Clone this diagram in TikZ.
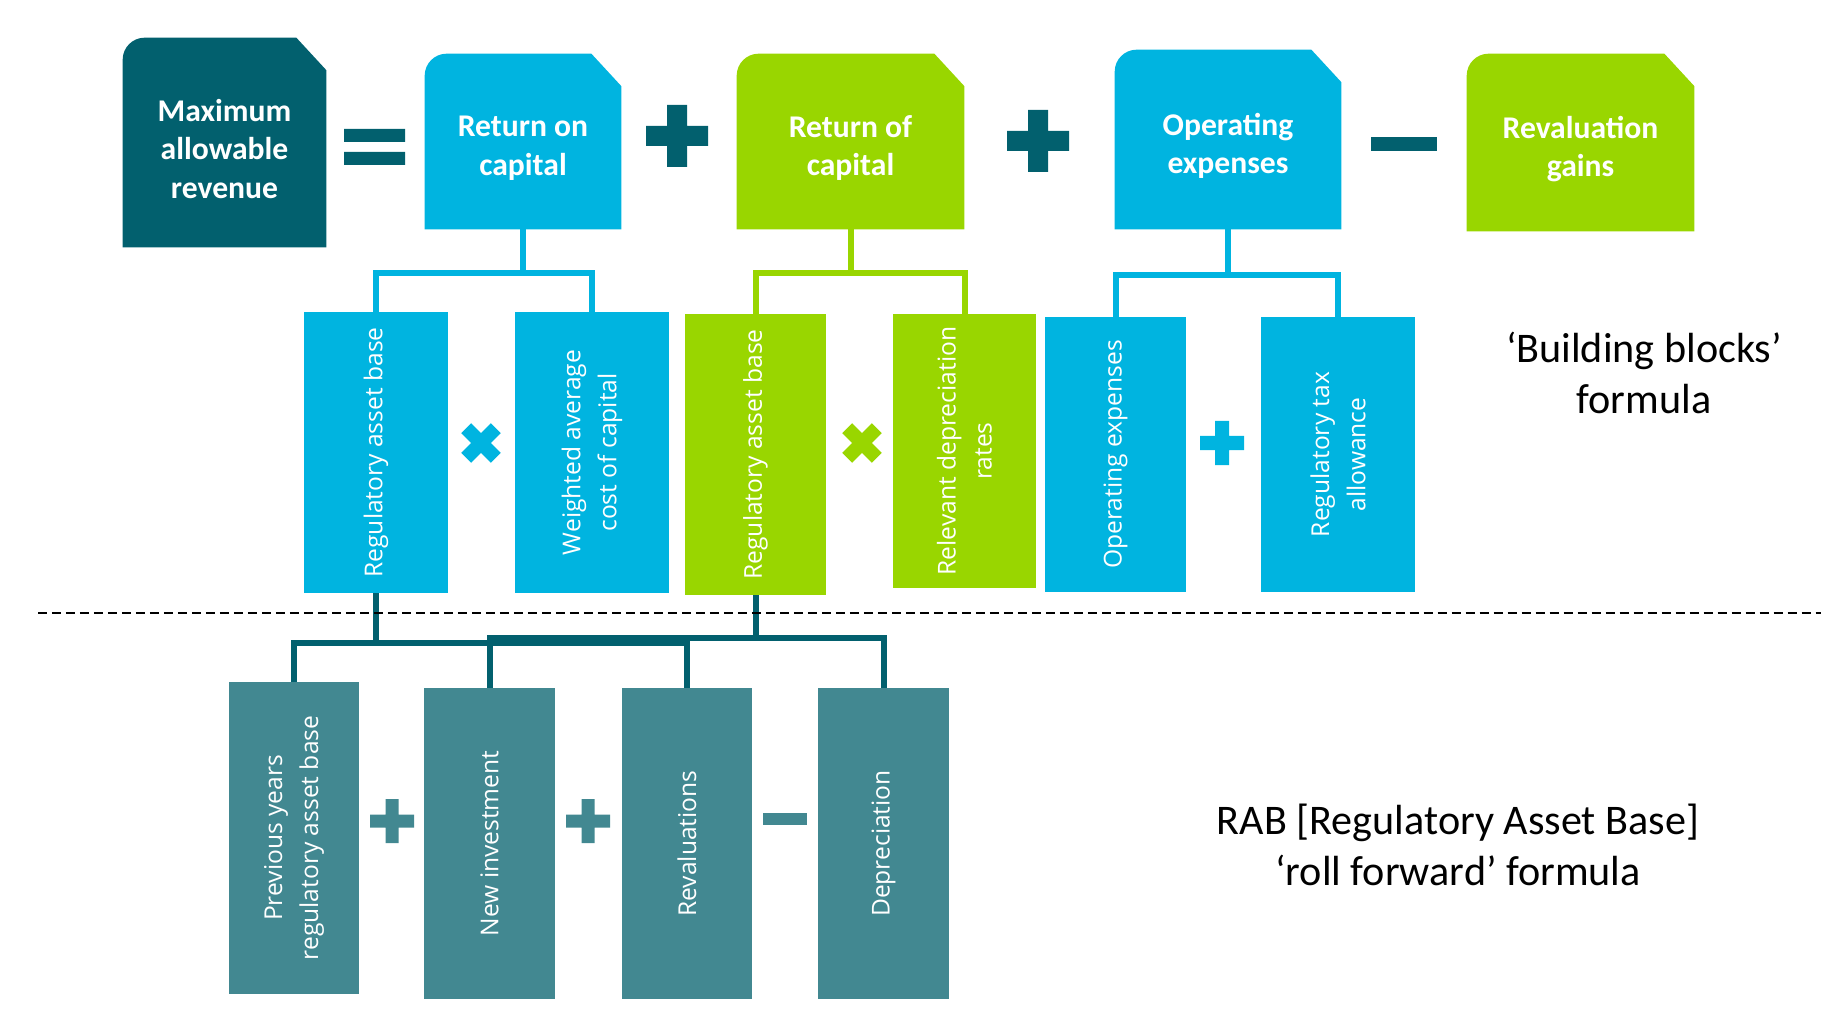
\documentclass[tikz,border=0pt]{standalone}
\usepackage{fontspec}
\setmainfont{Carlito}
\newfontfamily\bodyfont{Open Sans}
\usetikzlibrary{backgrounds}
\definecolor{dteal}{HTML}{02606E}
\definecolor{mteal}{HTML}{428891}
\definecolor{cblue}{HTML}{00B4E0}
\definecolor{cgreen}{HTML}{99D600}

\begin{document}
\begin{tikzpicture}[x=0.02cm,y=-0.02cm,
  tab/.style={inner sep=0pt},
  tabtext/.style={text=white,align=center,font=\bfseries\fontsize{18}{22}\selectfont,yshift=-0.13cm},
  blk/.style={rotate=90,inner sep=0pt,fill=#1,text=white,align=center,font=\bodyfont\fontsize{14}{20.5}\selectfont},
  link/.style={#1,line width=0.12cm},
  lbl/.style={align=center,font=\fontsize{24}{29}\selectfont}]
\useasboundingbox (0,0) rectangle (1848,1016);

% top row
\node[tab,minimum width=4.06cm,minimum height=4.18cm,label={[tabtext]center:Maximum\\allowable\\revenue}] (mar) at (224.5,142.5) {};
\node[tab,minimum width=3.92cm,minimum height=3.5cm,label={[tabtext]center:Return on\\capital}] (roc) at (523,141.5) {};
\node[tab,minimum width=4.54cm,minimum height=3.5cm,label={[tabtext]center:Return of\\capital}] (rfc) at (850.5,141.5) {};
\node[tab,minimum width=4.52cm,minimum height=3.58cm,label={[tabtext]center:Operating\\expenses}] (opx) at (1228,139.5) {};
\node[tab,minimum width=4.54cm,minimum height=3.54cm,label={[tabtext]center:Revaluation\\gains}] (rvg) at (1580.5,142.5) {};

\begin{scope}[on background layer]
\foreach \n/\c in {mar/dteal,roc/cblue,rfc/cgreen,opx/cblue,rvg/cgreen}
  \fill[\c] (\n.south west) [rounded corners=0.44cm] -- (\n.north west) [sharp corners]
    -- ([xshift=-0.6cm]\n.north east) -- ([yshift=-0.65cm]\n.north east) -- (\n.south east) -- cycle;
\end{scope}

% building blocks
\node[blk=cblue,minimum width=5.62cm,minimum height=2.88cm] (rab1) at (376,452.5) {Regulatory asset base};
\node[blk=cblue,minimum width=5.62cm,minimum height=3.08cm] (wacc) at (592,452.5) {Weighted average\\cost of capital};
\node[blk=cgreen,minimum width=5.62cm,minimum height=2.82cm] (rab2) at (755.5,454.5) {Regulatory asset base};
\node[blk=cgreen,minimum width=5.48cm,minimum height=2.86cm] (dpr) at (964.5,451) {Relevant depreciation\\rates};
\node[blk=cblue,minimum width=5.5cm,minimum height=2.82cm] (opx2) at (1115.5,454.5) {Operating expenses};
\node[blk=cblue,minimum width=5.5cm,minimum height=3.08cm] (tax) at (1338,454.5) {Regulatory tax\\allowance};

% roll forward
\node[blk=mteal,minimum width=6.24cm,minimum height=2.6cm] (prv) at (294,838) {Previous years\\regulatory asset base};
\node[blk=mteal,minimum width=6.22cm,minimum height=2.62cm] (inv) at (489.5,843.5) {New investment};
\node[blk=mteal,minimum width=6.22cm,minimum height=2.6cm] (rvl) at (687,843.5) {Revaluations};
\node[blk=mteal,minimum width=6.22cm,minimum height=2.62cm] (dep) at (883.5,843.5) {Depreciation};

\node[lbl] (bb) at (1644,373) {‘Building blocks’\\formula};
\node[lbl] (rf) at (1458,845) {RAB [Regulatory Asset Base]\\‘roll forward’ formula};

% operators
\fill[dteal] (344,129) rectangle (405,142) (344,152) rectangle (405,165);
\fill[dteal,shift={(677,136)}] (-31,-10) rectangle (31,10) (-10,-31) rectangle (10,31);
\fill[dteal,shift={(1038,141)}] (-31,-10) rectangle (31,10) (-10,-31) rectangle (10,31);
\fill[dteal,shift={(1404,144)}] (-33,-7) rectangle (33,7);
\fill[cblue,shift={(481,443)},rotate=45] (-21,-7) rectangle (21,7) (-7,-21) rectangle (7,21);
\fill[cgreen,shift={(862,443)},rotate=45] (-21,-7) rectangle (21,7) (-7,-21) rectangle (7,21);
\fill[cblue,shift={(1222,443)}] (-22,-7) rectangle (22,7) (-7,-22) rectangle (7,22);
\fill[mteal,shift={(392,821)}] (-22,-6.5) rectangle (22,6.5) (-6.5,-22) rectangle (6.5,22);
\fill[mteal,shift={(588,821)}] (-22,-6.5) rectangle (22,6.5) (-6.5,-22) rectangle (6.5,22);
\fill[mteal,shift={(785,819)}] (-22,-6) rectangle (22,6);

% connectors
\draw[link=cblue] (roc.south) -- ++(0,44) coordinate (j1);
\draw[link=cblue] (rab1.east) |- (j1) -| (wacc.east);
\draw[link=cgreen] (rfc.south) -- ++(0,44) coordinate (j2);
\draw[link=cgreen] (rab2.east) |- (j2) -| (dpr.east);
\draw[link=cblue] (opx.south) -- ++(0,46) coordinate (j3);
\draw[link=cblue] (opx2.east) |- (j3) -| (tax.east);
\draw[link=dteal] (rab1.west) -- ++(0,50) coordinate (j4);
\draw[link=dteal] (prv.east) |- (j4) -| (rvl.east);
\draw[link=dteal] (rab2.west) -- ++(0,43) coordinate (j5);
\draw[link=dteal] (inv.east) |- (j5) -| (dep.east);

\draw[line width=0.05cm,dash pattern=on 0.18cm off 0.1cm] (38,613) -- (1821,613);
\end{tikzpicture}
\end{document}
